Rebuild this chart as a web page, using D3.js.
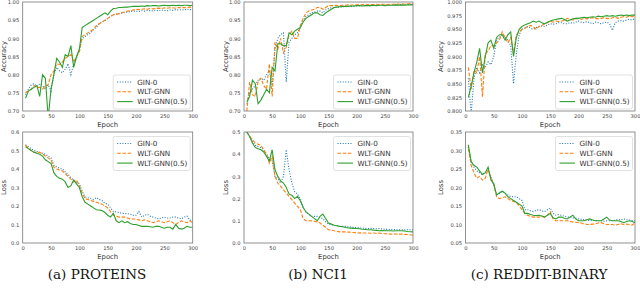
<!DOCTYPE html>
<html>
<head>
<meta charset="utf-8">
<script src="https://cdn.jsdelivr.net/npm/d3@7"></script>
<style>
  body { margin: 0; background: #fff; }
  svg { display: block; }
</style>
</head>
<body>
<svg id="vis" width="640" height="288"></svg>
<script>
// epochs shared by every curve
const epochs = [5,10,15,20,25,30,35,40,45,50,55,60,65,70,75,80,85,90,95,100,
  105,110,115,120,125,130,135,140,145,150,155,160,165,170,175,180,185,190,195,200,
  205,210,215,220,225,230,235,240,245,250,255,260,265,270,275,280,285,290,295,300];

const seriesNames = ["GIN-0", "WLT-GNN", "WLT-GNN(0.5)"];
const captions = ["(a) PROTEINS", "(b) NCI1", "(c) REDDIT-BINARY"];
const xTicks = [0, 50, 100, 150, 200, 250, 300];

// PROTEINS accuracy
const proteinsAccGin = [.745,.76,.772,.775,.768,.775,.77,.76,.772,.755,.80,.82,.81,.805,.815,.83,.80,.83,.845,.87,
  .90,.905,.91,.915,.925,.93,.94,.945,.948,.955,.96,.965,.966,.968,.97,.972,.972,.974,.975,.975,
  .974,.976,.975,.977,.976,.975,.977,.976,.978,.977,.976,.978,.977,.979,.978,.979,.978,.98,.979,.98];
const proteinsAccWlt = [.75,.755,.76,.77,.765,.765,.76,.77,.772,.80,.81,.83,.828,.835,.845,.85,.855,.835,.85,.862,
  .905,.91,.915,.92,.925,.935,.94,.945,.95,.955,.96,.965,.966,.968,.97,.973,.975,.976,.978,.98,
  .979,.98,.981,.98,.982,.981,.982,.983,.982,.984,.983,.984,.984,.983,.985,.984,.985,.984,.986,.985];
const proteinsAccWlt05 = [.735,.755,.76,.765,.77,.74,.80,.79,.68,.76,.80,.845,.835,.82,.855,.85,.88,.82,.85,.87,
  .93,.935,.94,.945,.95,.955,.96,.965,.97,.965,.975,.982,.983,.985,.985,.986,.986,.987,.988,.988,
  .988,.989,.988,.99,.989,.99,.99,.989,.99,.991,.99,.99,.991,.99,.991,.99,.991,.991,.99,.991];

// NCI1 accuracy
const nciAccGin = [.72,.75,.76,.77,.785,.79,.785,.80,.81,.77,.87,.90,.91,.915,.78,.89,.90,.91,.915,.93,
  .95,.96,.965,.97,.972,.975,.975,.97,.978,.982,.984,.985,.986,.986,.987,.987,.988,.988,.988,.989,
  .989,.99,.99,.99,.99,.991,.99,.991,.991,.991,.992,.991,.992,.992,.992,.993,.992,.993,.993,.993];
const nciAccWlt = [.70,.78,.745,.74,.78,.79,.77,.76,.83,.74,.89,.87,.90,.86,.875,.91,.92,.90,.90,.935,
  .955,.97,.975,.978,.98,.985,.985,.98,.985,.99,.99,.99,.991,.99,.991,.991,.992,.991,.992,.992,
  .992,.993,.992,.993,.993,.993,.994,.993,.994,.994,.993,.994,.994,.995,.994,.995,.994,.995,.995,.995];
const nciAccWlt05 = [.725,.74,.785,.775,.72,.73,.745,.76,.75,.82,.81,.885,.885,.88,.88,.915,.91,.92,.925,.93,
  .945,.955,.96,.965,.97,.97,.965,.963,.97,.975,.98,.985,.986,.987,.988,.988,.988,.989,.989,.99,
  .99,.989,.99,.99,.99,.991,.99,.991,.991,.99,.991,.991,.991,.992,.991,.992,.991,.992,.992,.992];

// REDDIT-BINARY accuracy
const redditAccGin = [.86,.795,.86,.88,.87,.885,.88,.89,.885,.90,.93,.935,.94,.935,.93,.92,.85,.905,.94,.95,
  .952,.955,.952,.95,.953,.955,.956,.955,.958,.96,.959,.96,.962,.962,.96,.96,.962,.961,.963,.965,
  .963,.962,.964,.962,.96,.963,.962,.96,.962,.963,.96,.948,.962,.965,.966,.965,.967,.968,.967,.97];
const redditAccWlt = [.88,.84,.875,.87,.90,.826,.905,.91,.92,.92,.925,.93,.945,.935,.925,.935,.905,.94,.945,.95,
  .952,.955,.957,.955,.95,.955,.957,.96,.962,.965,.963,.965,.964,.965,.966,.97,.968,.967,.969,.97,
  .968,.97,.969,.97,.971,.97,.969,.97,.971,.97,.969,.971,.972,.97,.972,.973,.972,.974,.973,.975];
const redditAccWlt05 = [.825,.845,.87,.89,.915,.87,.90,.925,.93,.915,.935,.94,.94,.93,.94,.945,.90,.935,.95,.955,
  .958,.96,.962,.965,.963,.965,.962,.96,.963,.965,.967,.968,.969,.97,.968,.965,.967,.969,.97,.97,
  .971,.972,.971,.972,.973,.972,.974,.973,.974,.975,.974,.975,.974,.975,.976,.975,.976,.975,.976,.976];

// PROTEINS loss
const proteinsLossGin = [.53,.52,.51,.50,.495,.49,.485,.48,.47,.46,.42,.41,.405,.40,.385,.37,.355,.34,.33,.32,
  .28,.25,.245,.24,.235,.245,.235,.23,.215,.21,.19,.17,.168,.165,.16,.16,.158,.155,.15,.15,
  .17,.14,.15,.155,.145,.14,.135,.13,.135,.14,.135,.135,.14,.14,.135,.13,.14,.145,.125,.12];
const proteinsLossWlt = [.53,.51,.50,.49,.49,.49,.48,.47,.46,.45,.41,.40,.395,.39,.375,.36,.345,.33,.34,.31,
  .27,.24,.235,.23,.225,.22,.215,.21,.20,.19,.17,.15,.145,.14,.14,.14,.135,.13,.13,.13,
  .125,.12,.125,.12,.115,.11,.115,.12,.115,.11,.115,.12,.11,.10,.11,.12,.115,.11,.12,.11];
const proteinsLossWlt05 = [.52,.51,.50,.49,.485,.48,.47,.45,.44,.43,.38,.36,.35,.345,.33,.30,.31,.34,.32,.30,
  .25,.22,.21,.20,.19,.18,.178,.175,.165,.15,.14,.16,.12,.11,.12,.11,.115,.105,.10,.10,
  .095,.09,.09,.09,.088,.085,.09,.09,.085,.08,.085,.085,.075,.10,.08,.075,.08,.09,.085,.085];

// NCI1 loss
const nciLossGin = [.50,.48,.46,.44,.435,.43,.42,.40,.38,.37,.30,.29,.27,.30,.42,.33,.27,.23,.22,.20,
  .16,.14,.13,.12,.12,.12,.115,.11,.095,.085,.082,.08,.078,.075,.075,.075,.073,.072,.07,.07,
  .068,.067,.066,.065,.066,.065,.064,.065,.063,.062,.061,.06,.061,.06,.06,.06,.059,.06,.06,.06];
const nciLossWlt = [.50,.48,.465,.45,.445,.44,.42,.40,.36,.39,.30,.27,.255,.24,.225,.21,.195,.18,.165,.15,
  .11,.10,.10,.10,.098,.095,.09,.08,.07,.06,.058,.055,.053,.05,.05,.05,.049,.048,.047,.045,
  .046,.045,.045,.045,.044,.045,.044,.045,.043,.042,.041,.04,.041,.04,.04,.04,.039,.038,.037,.035];
const nciLossWlt05 = [.50,.48,.45,.43,.425,.42,.41,.39,.37,.42,.33,.30,.28,.27,.25,.22,.215,.20,.21,.19,
  .16,.14,.13,.12,.11,.10,.12,.13,.11,.09,.085,.08,.078,.075,.073,.07,.068,.067,.066,.065,
  .064,.062,.061,.06,.06,.058,.057,.055,.056,.055,.055,.055,.054,.055,.055,.055,.054,.052,.051,.05];

// REDDIT-BINARY loss
const redditLossGin = [.31,.27,.255,.245,.24,.235,.24,.245,.23,.205,.18,.185,.19,.185,.18,.175,.175,.175,.17,.165,
  .14,.14,.137,.135,.138,.14,.137,.135,.14,.145,.13,.125,.127,.125,.122,.12,.12,.118,.117,.115,
  .114,.113,.112,.11,.112,.11,.111,.11,.109,.11,.11,.11,.112,.113,.112,.115,.113,.112,.111,.11];
const redditLossWlt = [.305,.26,.24,.225,.23,.22,.225,.25,.225,.21,.175,.17,.172,.175,.17,.165,.162,.16,.15,.14,
  .13,.125,.122,.12,.12,.12,.122,.12,.125,.135,.115,.11,.11,.11,.11,.11,.108,.107,.106,.105,
  .104,.102,.10,.10,.101,.102,.104,.105,.102,.10,.10,.10,.098,.10,.102,.10,.101,.10,.098,.105];
const redditLossWlt05 = [.315,.27,.26,.255,.245,.235,.24,.255,.22,.21,.18,.185,.19,.185,.175,.17,.165,.16,.155,.15,
  .13,.13,.127,.125,.124,.125,.123,.12,.125,.13,.118,.115,.12,.12,.117,.115,.12,.125,.115,.11,
  .11,.11,.113,.115,.112,.11,.11,.11,.115,.12,.112,.11,.11,.11,.108,.105,.108,.11,.108,.105];

// tick labels for each panel
const accTicksA = [0.70, 0.75, 0.80, 0.85, 0.90, 0.95, 1.00];
const accTicksC = [0.800, 0.825, 0.850, 0.875, 0.900, 0.925, 0.950, 0.975, 1.000];
const lossTicksA = [0.0, 0.1, 0.2, 0.3, 0.4, 0.5, 0.6];
const lossTicksB = [0.0, 0.1, 0.2, 0.3, 0.4, 0.5];
const lossTicksC = [0.05, 0.10, 0.15, 0.20, 0.25, 0.30, 0.35];

const colors = ["#1f77b4", "#ff7f0e", "#2ca02c"];
const dashes = ["1,1.6", "3.6,1.6", null];

const cols = [[22.7, 192.7], [244, 413], [465.5, 635]];
const rows = [[2, 111], [132, 243]];

const panels = [
  { col: 0, row: 0, label: "Accuracy", dom: [0.70, 1.00], ticks: accTicksA, fmt: ".2f", legend: "bottom",
    data: [proteinsAccGin, proteinsAccWlt, proteinsAccWlt05] },
  { col: 1, row: 0, label: "Accuracy", dom: [0.70, 1.00], ticks: accTicksA, fmt: ".2f", legend: "bottom",
    data: [nciAccGin, nciAccWlt, nciAccWlt05] },
  { col: 2, row: 0, label: "Accuracy", dom: [0.80, 1.00], ticks: accTicksC, fmt: ".3f", legend: "bottom",
    data: [redditAccGin, redditAccWlt, redditAccWlt05] },
  { col: 0, row: 1, label: "Loss", dom: [0.0, 0.6], ticks: lossTicksA, fmt: ".1f", legend: "top",
    data: [proteinsLossGin, proteinsLossWlt, proteinsLossWlt05] },
  { col: 1, row: 1, label: "Loss", dom: [0.0, 0.5], ticks: lossTicksB, fmt: ".1f", legend: "top",
    data: [nciLossGin, nciLossWlt, nciLossWlt05] },
  { col: 2, row: 1, label: "Loss", dom: [0.05, 0.35], ticks: lossTicksC, fmt: ".2f", legend: "top",
    data: [redditLossGin, redditLossWlt, redditLossWlt05] }
];

const svg = d3.select("#vis");
const font = "'DejaVu Sans', sans-serif";

panels.forEach((p, i) => {
  const [x0, x1] = cols[p.col];
  const [y0, y1] = rows[p.row];
  const x = d3.scaleLinear().domain([0, 300]).range([x0, x1]);
  const y = d3.scaleLinear().domain(p.dom).range([y1, y0]);
  const g = svg.append("g");

  g.append("clipPath").attr("id", "clip" + i)
    .append("rect").attr("x", x0).attr("y", y0).attr("width", x1 - x0).attr("height", y1 - y0);

  // axes, labels only
  const xa = g.append("g").attr("transform", `translate(0,${y1})`)
    .call(d3.axisBottom(x).tickValues(xTicks).tickSize(0).tickPadding(3.5));
  const ya = g.append("g").attr("transform", `translate(${x0},0)`)
    .call(d3.axisLeft(y).tickValues(p.ticks).tickFormat(d3.format(p.fmt)).tickSize(0).tickPadding(3.5));
  [xa, ya].forEach(a => {
    a.select(".domain").remove();
    a.selectAll("text").attr("font-family", font).attr("font-size", 5.2).attr("fill", "#444");
  });

  // curves
  const line = d3.line().x((d, k) => x(epochs[k])).y(d => y(d));
  p.data.forEach((vals, s) => {
    g.append("path")
      .attr("clip-path", `url(#clip${i})`)
      .attr("d", line(vals))
      .attr("fill", "none")
      .attr("stroke", colors[s])
      .attr("stroke-width", 1.1)
      .attr("stroke-dasharray", dashes[s]);
  });

  // frame
  g.append("rect").attr("x", x0).attr("y", y0).attr("width", x1 - x0).attr("height", y1 - y0)
    .attr("fill", "none").attr("stroke", "#777").attr("stroke-width", 0.8);

  // axis titles
  g.append("text").attr("x", (x0 + x1) / 2).attr("y", y1 + 15.5)
    .attr("text-anchor", "middle").attr("font-family", font).attr("font-size", 6.8).attr("fill", "#333")
    .text("Epoch");
  const ly = (y0 + y1) / 2;
  const lx = p.col === 2 ? x0 - 23 : x0 - 16.5;
  g.append("text").attr("transform", `translate(${lx},${ly}) rotate(-90)`)
    .attr("text-anchor", "middle").attr("font-family", font).attr("font-size", 6.8).attr("fill", "#333")
    .text(p.label);

  // legend
  const lw = 77, lh = 34;
  const lx0 = x1 - lw - 2.5;
  const ly0 = p.legend === "bottom" ? y1 - lh - 2 : y0 + 4.5;
  const lg = g.append("g").attr("transform", `translate(${lx0},${ly0})`);
  lg.append("rect").attr("width", lw).attr("height", lh).attr("rx", 2)
    .attr("fill", "#fff").attr("fill-opacity", 0.85).attr("stroke", "#ccc").attr("stroke-width", 0.6);
  seriesNames.forEach((name, s) => {
    const yy = 7 + s * 9.8;
    lg.append("line").attr("x1", 4).attr("x2", 19.5).attr("y1", yy).attr("y2", yy)
      .attr("stroke", colors[s]).attr("stroke-width", 1.1).attr("stroke-dasharray", dashes[s]);
    lg.append("text").attr("x", 24).attr("y", yy + 2.6)
      .attr("font-family", font).attr("font-size", 7.2).attr("fill", "#333").text(name);
  });
});

// subfigure captions
const captionX = [97, 318, 539];
captions.forEach((c, i) => {
  svg.append("text").attr("x", captionX[i]).attr("y", 279)
    .attr("text-anchor", "middle").attr("font-family", "'DejaVu Serif', serif")
    .attr("font-size", 13.5).attr("fill", "#111").text(c);
});
</script>
</body>
</html>
